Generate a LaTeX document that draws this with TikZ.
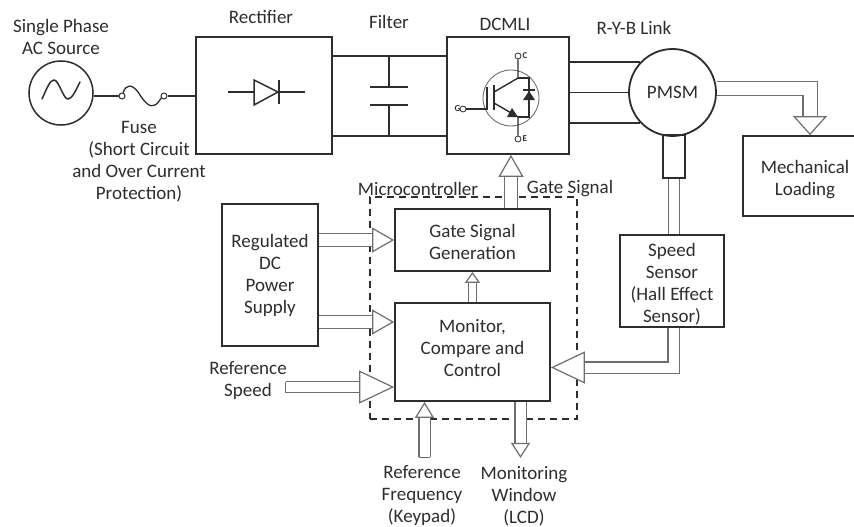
\documentclass[tikz,border=0pt]{standalone}
\usepackage{fontspec}
\setmainfont{Carlito}
\usetikzlibrary{arrows.meta, positioning, calc}
\definecolor{ink}{RGB}{45,45,45}
\definecolor{soft}{RGB}{110,110,110}

\begin{document}
\begin{tikzpicture}[x=1pt, y=-1pt, font=\fontsize{19}{22}\selectfont, text=ink,
  box/.style={draw=ink, line width=1.8pt, align=center, inner sep=0pt},
  lbl/.style={align=center, inner sep=0pt},
  wire/.style={draw=ink, line width=1.8pt},
  pin/.style={circle, draw=ink, line width=1pt, inner sep=0pt, minimum size=6pt, fill=white},
  pinname/.style={lbl, font=\fontsize{9}{10}\selectfont\bfseries},
  hollow/.style={draw=soft, line width=1.2pt, double=white, double distance=#1},
  hollow/.default=10pt,
  headbig/.style={-{Triangle[open, fill=white, length=34pt, width=32pt, line width=1.2pt]}},
  headmid/.style={-{Triangle[open, fill=white, length=22pt, width=25pt, line width=1.2pt]}},
  headout/.style={-{Triangle[open, fill=white, length=19pt, width=34pt, line width=1.2pt]}},
  headsmall/.style={-{Triangle[open, fill=white, length=15pt, width=19pt, line width=1.2pt]}},
  headtiny/.style={-{Triangle[open, fill=white, length=11pt, width=15pt, line width=1.2pt]}},
  barbig/.style={{Bar[width=11pt, line width=1.2pt]}-{Triangle[open, fill=white, length=35pt, width=33pt, line width=1.2pt]}},
  barsmall/.style={{Bar[width=11pt, line width=1.2pt]}-{Triangle[open, fill=white, length=16pt, width=19pt, line width=1.2pt]}}]
  \useasboundingbox (0,0) rectangle (854,527);
  % dashed frame first, so the arrows sit on top
  \node[draw=ink, line width=1.3pt, dash pattern=on 7pt off 5pt, minimum width=207pt, minimum height=222pt] (micro) at (473.5,308) {};
  % power stage
  \node[circle, draw=ink, line width=1.5pt, minimum size=64pt, inner sep=0pt] (acsrc) at (61,93) {};
  \node[pin] (fusea) at (122,96) {};
  \node[pin] (fuseb) at (164,96) {};
  \node[box, minimum width=136pt, minimum height=117pt] (rectifier) at (264,95.5) {};
  \node[box, minimum width=122pt, minimum height=117pt] (dcmli) at (508,95.5) {};
  \node[circle, draw=ink, line width=1.8pt, minimum size=87pt, inner sep=0pt, fill=white] (pmsm) at (672.5,92.5) {PMSM};
  \node[box, minimum width=22pt, minimum height=43pt] (shaft) at (674,156.5) {};
  \node[box, minimum width=124pt, minimum height=80pt] (load) at (805,176) {\rule{0pt}{21pt}Mechanical\\Loading};
  % control stage
  \node[box, minimum width=96pt, minimum height=142pt] (supply) at (270,275) {Regulated\\DC\\Power\\Supply};
  \node[box, minimum width=155pt, minimum height=62pt] (gategen) at (472.5,240) {\rule{0pt}{17pt}Gate Signal\\Generation};
  \node[box, minimum width=155pt, minimum height=98pt] (monitor) at (472.5,352) {Monitor,\\Compare and\\Control\rule[-9pt]{0pt}{9pt}};
  \node[box, minimum width=104pt, minimum height=92pt] (sensor) at (672,281) {\rule{0pt}{20pt}Speed\\Sensor\\(Hall Effect\\Sensor)};
  % labels
  \node[lbl] (acname) at (61,37) {Single Phase\\AC Source};
  \node[lbl] (fusename) at (139,162) {Fuse\\(Short Circuit\\and Over Current\\Protection)};
  \node[lbl] (recname) at (261,17) {Rectifier};
  \node[lbl] (filname) at (389,22) {Filter};
  \node[lbl] (dcname) at (505,24) {DCMLI};
  \node[lbl] (rybname) at (634,28) {R-Y-B Link};
  \node[lbl] (microname) at (418,189) {Microcontroller};
  \node[lbl] (gatename) at (570,189) {Gate Signal};
  \node[lbl] (refspeed) at (248,380.5) {Reference\\Speed};
  \node[lbl] (reffreq) at (422,496) {Reference\\Frequency\\(Keypad)};
  \node[lbl] (window) at (524,496) {Monitoring\\Window\\(LCD)};
  % source and fuse
  \draw[wire] (acsrc.east |- fusea) -- (fusea);
  \draw[wire] (fuseb) -- (fuseb -| rectifier.west);
  \draw[ink, line width=1.3pt] (fusea) .. controls (126,84) and (132,84) .. (138,92) .. controls (145,103) and (150,108) .. (155,105) .. controls (159,103) and (160,99) .. (fuseb);
  \draw[ink, line width=1.5pt, line cap=round] (42,99) .. controls (47,88) and (50,80) .. (54,80) .. controls (59,80) and (63,99) .. (68,99) .. controls (72,99) and (76,90) .. (80,82);
  % diode
  \draw[ink, line width=1.5pt] (228,92) -- (254,92) (279,92) -- (305,92);
  \draw[ink, line width=1.5pt] (254,80) -- (278,92) -- (254,105) -- cycle;
  \draw[ink, line width=1.7pt] (279,80) -- (279,104);
  % dc bus and capacitor
  \draw[wire] ([yshift=39.5pt]rectifier.east) -- ([yshift=39.5pt]dcmli.west);
  \draw[wire] ([yshift=-40.5pt]rectifier.east) -- ([yshift=-40.5pt]dcmli.west);
  \draw[ink, line width=1.7pt] (389,56) -- (389,87) (370,87) -- (408,87) (370,105) -- (408,105) (389,105) -- (389,136);
  % igbt
  \node[circle, draw=soft, line width=.9pt, minimum size=56pt, inner sep=0pt] (igbt) at (511,98) {};
  \node[pin, minimum size=6pt, line width=.8pt] (pinc) at (518,56) {};
  \node[pin, minimum size=6pt, line width=.8pt] (pine) at (518,139) {};
  \node[pin, minimum size=6pt, line width=.8pt] (ping) at (463,109) {};
  \node[pinname, right=1pt of pinc] (cname) {C};
  \node[pinname, right=1pt of pine] (ename) {E};
  \node[pinname, left=-1pt of ping] (gname) {G};
  \draw[ink, line width=1.4pt] (ping) -- (487,109) -- (487,87);
  \draw[ink, line width=1.6pt] (494,85) -- (494,110);
  \draw[ink, line width=1.4pt] (pinc) -- (518,78) -- (494,92);
  \draw[ink, line width=1.4pt] (pine) -- (518,117) -- (494,103);
  \draw[ink, line width=1.4pt] (518,78) -- (529,78) -- (529,117) -- (518,117);
  \fill[ink] (518,117) -- (507,117) -- (512,108) -- cycle;
  \fill[ink] (529,91) -- (535,100) -- (523,100) -- cycle;
  \draw[ink, line width=1.4pt] (523,90) -- (535,90);
  % r-y-b link
  \draw[wire] (dcmli.east |- pmsm.137) -- (pmsm.137);
  \draw[wire] (dcmli.east |- pmsm.west) -- (pmsm.west);
  \draw[wire] (dcmli.east |- pmsm.223) -- (pmsm.223);
  % hollow connectors
  \draw[hollow=13pt, headout] (pmsm.5) -| ([xshift=5pt]load.north);
  \draw[hollow] (shaft.south) -- (shaft.south |- sensor.north);
  \draw[hollow, headbig] ([xshift=1.5pt]sensor.south) |- ([yshift=-15.5pt]monitor.east);
  \draw[hollow=12pt, headmid] (gategen.north -| igbt) -- (igbt |- dcmli.south);
  \draw[hollow=7pt, headtiny] (monitor.north) -- (gategen.south);
  \draw[hollow=12pt, headmid] (supply.east |- gategen.west) -- (gategen.west);
  \draw[hollow=12pt, headmid] ([yshift=30pt]monitor.west -| supply.east) -- ([yshift=30pt]monitor.west);
  \draw[hollow, barbig] ([xshift=-109pt,yshift=-35pt]monitor.west) -- ([yshift=-35pt]monitor.west);
  \draw[hollow, barsmall] ([xshift=-48pt,yshift=-56pt]monitor.south) -- ([xshift=-48pt]monitor.south);
  \draw[hollow, headsmall] ([xshift=48pt]monitor.south) -- ([xshift=48pt,yshift=-56pt]monitor.south);
\end{tikzpicture}
\end{document}
